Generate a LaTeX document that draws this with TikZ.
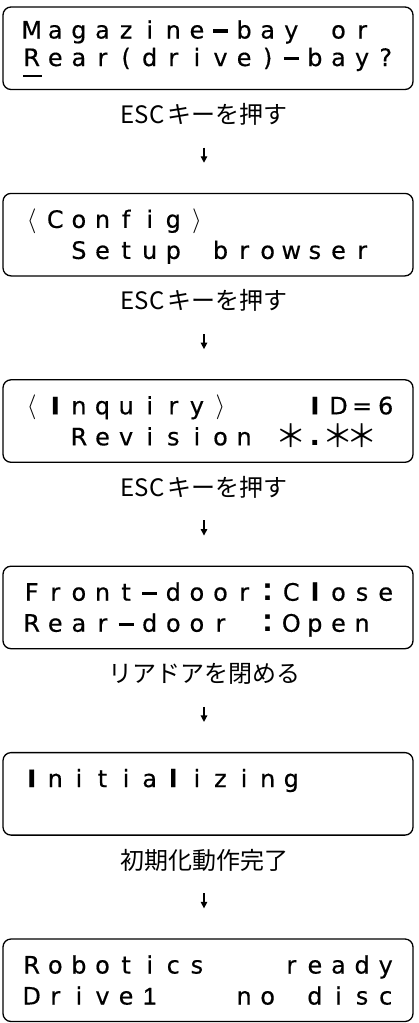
\documentclass[tikz,border=0pt]{standalone}
\usepackage{fontspec}
\usepackage{graphicx}
\setmainfont{Liberation Sans}
\newfontfamily\cjk{Noto Sans CJK JP}
\newfontfamily\lcdfont{DejaVu Sans}[FakeBold=0.4]
\newfontfamily\lcdalt{Liberation Sans}[FakeBold=1.0]
\usetikzlibrary{arrows.meta}
\newlength\lcdcw \setlength\lcdcw{23.6pt}
\def\lcd#1{\lcdi#1\relax}
\def\lcdi#1{\ifx#1\relax\else\makebox[\lcdcw]{#1}\expandafter\lcdi\fi}
\newcommand\lcdsh{\rule[6pt]{15pt}{3.2pt}}
\newcommand\lcdcol{{\normalfont\fontsize{33}{33}\selectfont\bfseries :}}
\newcommand\lcddot{{\normalfont\fontsize{34}{34}\selectfont\bfseries .}}
\newcommand\lcdI{{\bfseries I}}
\newcommand\lcdl{{\bfseries l}}
\newcommand\lcdone{{\lcdalt 1}}
\newcommand\lcdlt{\raisebox{0.5pt}{$\langle$}}
\newcommand\lcdgt{\raisebox{0.5pt}{$\rangle$}}
\newcommand\lcdst{\raisebox{-2pt}{\scalebox{1.3}{\cjk ＊}}}
\newcommand\lcdR{\rlap{\rule[-11pt]{19pt}{1.8pt}}R}
\tikzset{
  lcdbox/.style={draw, line width=1.3pt, rounded corners=8pt, minimum width=410pt, minimum height=82.5pt, inner sep=0pt},
  lcdtxt/.style={anchor=base west, inner sep=0pt, font=\lcdfont\fontsize{24}{24}\selectfont},
  lab/.style={inner sep=0pt, text height=18pt, text depth=4pt, font=\cjk\fontsize{24}{24}\selectfont},
  arr/.style={line width=1.3pt, -{Triangle[width=6.5pt,length=6.5pt]}, shorten <=19.9pt, shorten >=30pt}
}
\begin{document}
\begin{tikzpicture}[x=1pt,y=-1pt]
\useasboundingbox (0,0) rectangle (418,1023);
% boxes
\node[lcdbox] (box1) at (208,48.25) {};
\node[lcdbox] (box2) at (208,234.65) {};
\node[lcdbox] (box3) at (208,421.05) {};
\node[lcdbox] (box4) at (208,607.45) {};
\node[lcdbox] (box5) at (208,793.85) {};
\node[lcdbox] (box6) at (208,980.25) {};
% display texts
\node[lcdtxt] (t1a) at (19.7,38.5) {\lcd{Magazine\lcdsh bay~or}};
\node[lcdtxt] (t1b) at (19.7,66) {\lcd{\lcdR ear(drive)\lcdsh bay?}};
\node[lcdtxt] (t2a) at (19.7,227.9) {\lcd{\lcdlt Config\lcdgt}};
\node[lcdtxt] (t2b) at (19.7,258.9) {\lcd{~~Setup~browser}};
\node[lcdtxt] (t3a) at (19.7,414.3) {\lcd{\lcdlt\lcdI nquiry\lcdgt~~~\lcdI D=6}};
\node[lcdtxt] (t3b) at (19.7,445.3) {\lcd{~~Revision~\lcdst\lcddot\lcdst\lcdst}};
\node[lcdtxt] (t4a) at (19.7,600.7) {\lcd{Front\lcdsh door\lcdcol C\lcdl ose}};
\node[lcdtxt] (t4b) at (19.7,631.7) {\lcd{Rear\lcdsh door~\lcdcol Open}};
\node[lcdtxt] (t5a) at (19.7,787.1) {\lcd{\lcdI nitia\lcdl izing}};
\node[lcdtxt] (t6a) at (19.7,973.5) {\lcd{Robotics~~~ready}};
\node[lcdtxt] (t6b) at (19.7,1004.5) {\lcd{Drive\lcdone~~~no~disc}};
% labels
\node[lab] (lab1) at (204,116.5) {ESC\hspace{3pt}キーを押す};
\node[lab] (lab2) at (204,302.9) {ESC\hspace{3pt}キーを押す};
\node[lab] (lab3) at (204,489.3) {ESC\hspace{3pt}キーを押す};
\node[lab] (lab4) at (204,675.7) {リアドアを閉める};
\node[lab] (lab5) at (204,862.1) {初期化動作完了};
% arrows
\draw[arr] (lab1.south) -- (lab1.south |- box2.north);
\draw[arr] (lab2.south) -- (lab2.south |- box3.north);
\draw[arr] (lab3.south) -- (lab3.south |- box4.north);
\draw[arr] (lab4.south) -- (lab4.south |- box5.north);
\draw[arr] (lab5.south) -- (lab5.south |- box6.north);
\end{tikzpicture}
\end{document}
